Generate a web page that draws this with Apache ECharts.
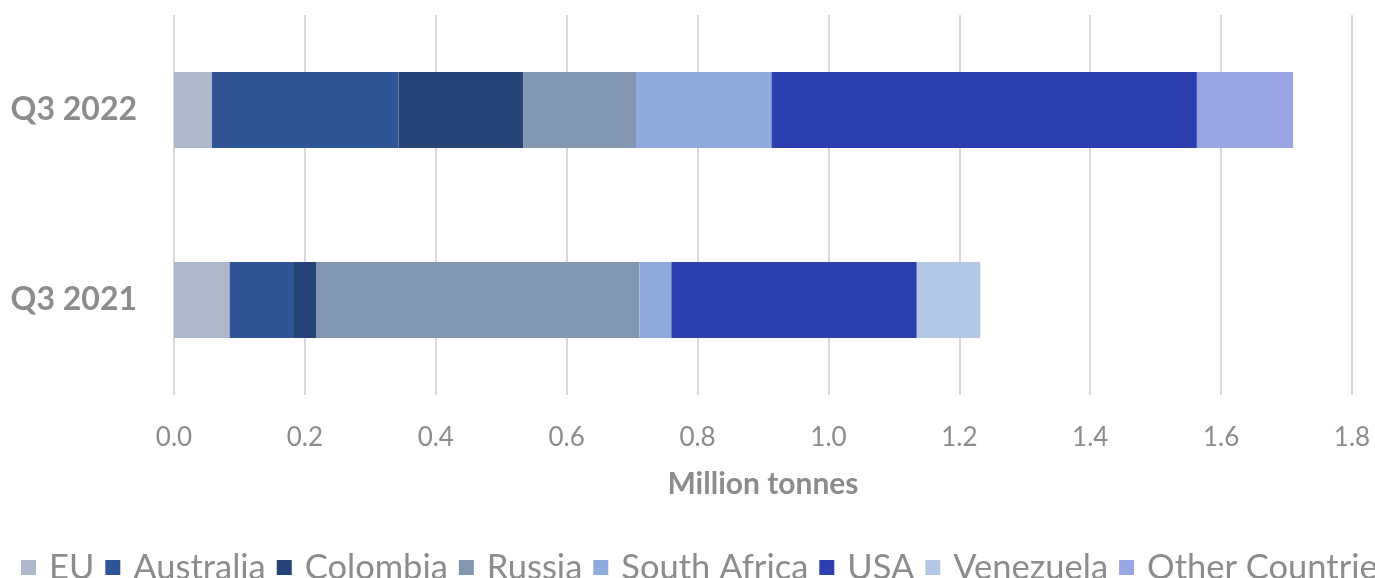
<!DOCTYPE html>
<html>
<head>
<meta charset="utf-8">
<script src="https://cdn.jsdelivr.net/npm/echarts@6/dist/echarts.min.js"></script>
<style>
  html, body { margin: 0; padding: 0; background: #ffffff; }
  #chart { width: 1375px; height: 578px; }
</style>
</head>
<body>
<div id="chart"></div>
<script>
// Quarters shown on the vertical axis (bottom to top)
const quarters = ['Q3 2021', 'Q3 2022'];

// Supplier countries, in stacking order
const countries = ['EU', 'Australia', 'Colombia', 'Russia', 'South Africa', 'USA', 'Venezuela', 'Other Countries'];

// Imports per country, million tonnes: [Q3 2021, Q3 2022]
const euValues        = [0.085, 0.058];
const australiaValues = [0.097, 0.285];
const colombiaValues  = [0.035, 0.191];
const russiaValues    = [0.494, 0.172];
const southAfricaVals = [0.049, 0.207];
const usaValues       = [0.375, 0.650];
const venezuelaValues = [0.097, 0];
const otherValues     = [0, 0.147];

const seriesValues = [euValues, australiaValues, colombiaValues, russiaValues,
                      southAfricaVals, usaValues, venezuelaValues, otherValues];

const palette = ['#adb9ca', '#2f5597', '#264478', '#8497b0', '#8faadc', '#2c3fae', '#b4c7e7', '#9aa6e4'];

const textGrey = '#8c8c8c';
const fontFamily = 'Lato, "Open Sans", sans-serif';

const chart = echarts.init(document.getElementById('chart'), null, { renderer: 'canvas' });

chart.setOption({
  animation: false,
  color: palette,
  grid: { left: 174, right: 23, top: 15, bottom: 183, containLabel: false },
  legend: {
    left: 16,
    top: 545,
    width: 3000,
    itemWidth: 15,
    itemHeight: 15,
    itemGap: 11,
    icon: 'rect',
    data: countries,
    textStyle: {
      color: textGrey, fontSize: 34.5, fontFamily: fontFamily,
      lineHeight: 34, padding: [0, 0, 0, 8]
    }
  },
  xAxis: {
    type: 'value',
    min: 0,
    max: 1.8,
    interval: 0.2,
    name: 'Million tonnes',
    nameLocation: 'middle',
    nameGap: 74,
    nameTextStyle: { color: textGrey, fontSize: 30, fontWeight: 'bold', fontFamily: fontFamily },
    axisLine: { show: false },
    axisTick: { show: false },
    axisLabel: {
      color: textGrey, fontSize: 26, fontFamily: fontFamily, margin: 30,
      formatter: v => v.toFixed(1)
    },
    splitLine: { show: true, lineStyle: { color: '#d9d9d9', width: 2 } }
  },
  yAxis: {
    type: 'category',
    data: quarters,
    axisLine: { show: false },
    axisTick: { show: false },
    axisLabel: {
      color: textGrey, fontSize: 32, fontWeight: 'bold', fontFamily: fontFamily, margin: 37
    }
  },
  series: countries.map((name, i) => ({
    name: name,
    type: 'bar',
    stack: 'total',
    barWidth: '40%',
    data: seriesValues[i],
    itemStyle: { color: palette[i] }
  }))
});
</script>
</body>
</html>
